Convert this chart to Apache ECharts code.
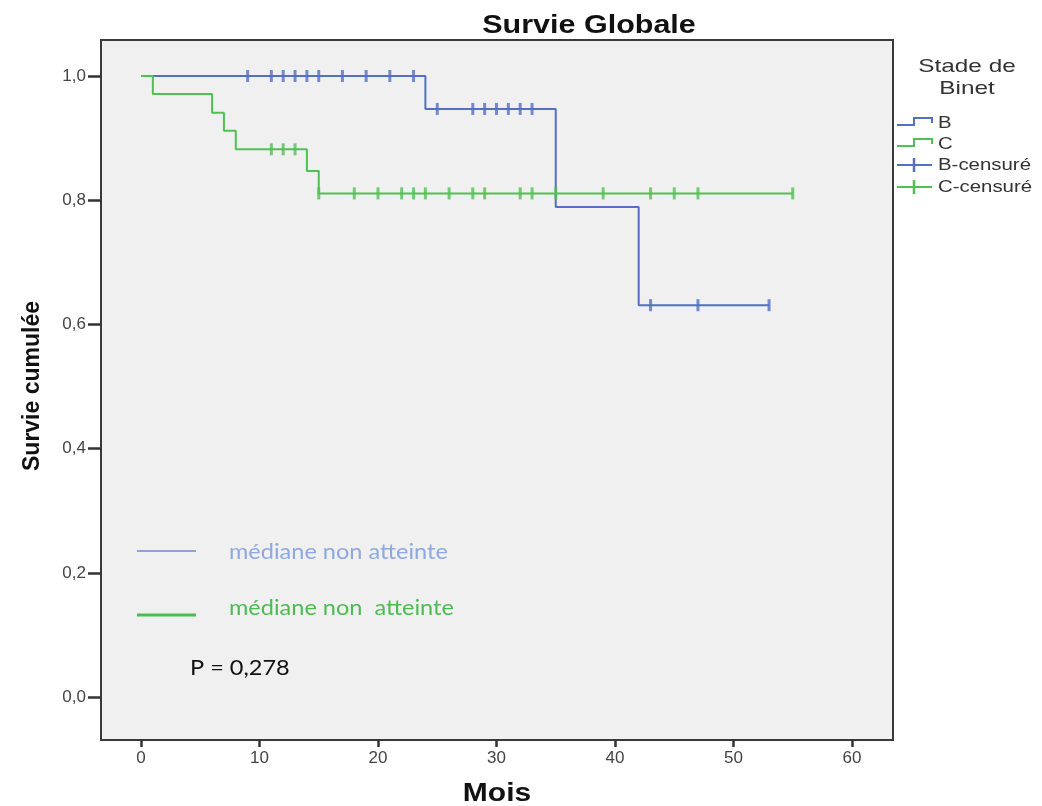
<!DOCTYPE html>
<html>
<head>
<meta charset="utf-8">
<script src="https://cdn.jsdelivr.net/npm/echarts@6/dist/echarts.min.js"></script>
<style>
html,body{margin:0;padding:0;background:#fff;}
#chart{width:1042px;height:806px;}
</style>
</head>
<body>
<div id="chart"></div>
<script>
// ---- data ----
const xTicks = [0, 10, 20, 30, 40, 50, 60];
const yTicks = [0, 0.2, 0.4, 0.6, 0.8, 1.0];
const timesB = [0, 24, 35, 42, 53];
const survB  = [1, 0.947, 0.789, 0.631, 0.631];
const censB  = [9, 11, 12, 13, 14, 15, 17, 19, 21, 23, 25, 28, 29, 30, 31, 32, 33, 43, 47, 53];
const timesC = [0, 1, 6, 7, 8, 14, 15, 55];
const survC  = [1, 0.971, 0.941, 0.912, 0.882, 0.847, 0.811, 0.811];
const censC  = [11, 12, 13, 15, 18, 20, 22, 23, 24, 26, 28, 29, 32, 33, 35, 39, 43, 45, 47, 55];
const seriesNames = ['B', 'C', 'B-censuré', 'C-censuré'];

const blue = '#546fc4';
const green = '#4fc152';

function stepAt(times, surv, t) {
  let s = surv[0];
  for (let i = 0; i < times.length; i++) if (times[i] <= t) s = surv[i];
  return s;
}
const lineB = timesB.map((t, i) => [t, survB[i]]);
const lineC = timesC.map((t, i) => [t, survC[i]]);
const ptsB = censB.map(t => [t, stepAt(timesB, survB, t)]);
const ptsC = censC.map(t => [t, stepAt(timesC, survC, t)]);

const chart = echarts.init(document.getElementById('chart'));
const fontMain = 'Liberation Sans, Arial, sans-serif';
const fontNote = 'Lato, "Open Sans", sans-serif';

function legendStep(y, color) {
  return {
    type: 'polyline', silent: true,
    shape: { points: [[897, y + 3], [914, y + 3], [914, y - 4], [932, y - 4], [932, y + 1]] },
    style: { stroke: color, lineWidth: 2, fill: null }
  };
}
function legendCens(y, color) {
  return [
    { type: 'line', shape: { x1: 897, y1: y, x2: 932, y2: y }, style: { stroke: color, lineWidth: 2 } },
    { type: 'line', shape: { x1: 914, y1: y - 7, x2: 914, y2: y + 7 }, style: { stroke: color, lineWidth: 2.5 } }
  ];
}
function legText(y, txt) {
  return { type: 'text', x: 938, y: y, scaleX: 1.2, style: { text: txt, font: '17px ' + fontMain, fill: '#333', textVerticalAlign: 'middle' } };
}

chart.setOption({
  animation: false,
  grid: {
    show: true, left: 101, top: 40, width: 792, height: 700,
    backgroundColor: '#f0f0f0', borderColor: '#3a3a3a', borderWidth: 2
  },
  xAxis: {
    type: 'value', min: -3.375, max: 63.46,
    axisLine: { show: false, onZero: false }, splitLine: { show: false },
    axisTick: { show: true, customValues: xTicks, length: 7, lineStyle: { color: '#333', width: 2.5 } },
    axisLabel: { customValues: xTicks, color: '#444', fontSize: 17, margin: 10, fontFamily: fontMain }
  },
  yAxis: {
    type: 'value', min: -0.0692, max: 1.058,
    axisLine: { show: false, onZero: false }, splitLine: { show: false },
    axisTick: { show: true, customValues: yTicks, length: 13, lineStyle: { color: '#333', width: 2.5 } },
    axisLabel: {
      customValues: yTicks, color: '#444', fontSize: 17, margin: 15, fontFamily: fontMain,
      formatter: v => v.toFixed(1).replace('.', ',')
    }
  },
  series: [
    { name: seriesNames[0], type: 'line', step: 'end', data: lineB, showSymbol: false, symbol: 'none', clip: false,
      lineStyle: { color: blue, width: 2 }, itemStyle: { color: blue }, z: 2 },
    { name: seriesNames[1], type: 'line', step: 'end', data: lineC, showSymbol: false, symbol: 'none', clip: false,
      lineStyle: { color: green, width: 2 }, itemStyle: { color: green }, z: 3 },
    { name: seriesNames[2], type: 'scatter', data: ptsB, symbol: 'rect', symbolSize: [3, 12], clip: false,
      itemStyle: { color: blue }, z: 4 },
    { name: seriesNames[3], type: 'scatter', data: ptsC, symbol: 'rect', symbolSize: [3, 12], clip: false,
      itemStyle: { color: green }, z: 5 }
  ],
  graphic: [
    { type: 'text', x: 589, y: 26, scaleX: 1.22, style: { text: 'Survie Globale', font: 'bold 25px ' + fontMain, fill: '#111', textAlign: 'center', textVerticalAlign: 'middle' } },
    { type: 'text', x: 33, y: 386, rotation: Math.PI / 2, style: { text: 'Survie cumulée', font: 'bold 23px ' + fontMain, fill: '#111', textAlign: 'center', textVerticalAlign: 'middle' } },
    { type: 'text', x: 497, y: 794, scaleX: 1.2, style: { text: 'Mois', font: 'bold 25px ' + fontMain, fill: '#111', textAlign: 'center', textVerticalAlign: 'middle' } },
    { type: 'text', x: 967, y: 67, scaleX: 1.28, style: { text: 'Stade de', font: '19px ' + fontMain, fill: '#333', textAlign: 'center', textVerticalAlign: 'middle' } },
    { type: 'text', x: 967, y: 89, scaleX: 1.28, style: { text: 'Binet', font: '19px ' + fontMain, fill: '#333', textAlign: 'center', textVerticalAlign: 'middle' } },
    legendStep(122, blue), legText(123, seriesNames[0]),
    legendStep(143, green), legText(144, seriesNames[1]),
    ...legendCens(165, blue), legText(165, seriesNames[2]),
    ...legendCens(187, green), legText(187, seriesNames[3]),
    { type: 'line', shape: { x1: 137, y1: 551, x2: 196, y2: 551 }, style: { stroke: '#8ea3d9', lineWidth: 2 } },
    { type: 'line', shape: { x1: 137, y1: 615, x2: 196, y2: 615 }, style: { stroke: '#4cbb50', lineWidth: 3 } },
    { type: 'text', x: 229, y: 552, scaleX: 1.12, style: { text: 'médiane non atteinte', font: '21px ' + fontNote, fill: '#8ea8e0', textVerticalAlign: 'middle' } },
    { type: 'text', x: 229, y: 608, scaleX: 1.12, style: { text: 'médiane non  atteinte', font: '21px ' + fontNote, fill: '#4cbb50', textVerticalAlign: 'middle' } },
    { type: 'text', x: 190, y: 668, scaleX: 1.12, style: { text: 'P = 0,278', font: '21px ' + fontNote, fill: '#111', textVerticalAlign: 'middle' } }
  ]
});
</script>
</body>
</html>
